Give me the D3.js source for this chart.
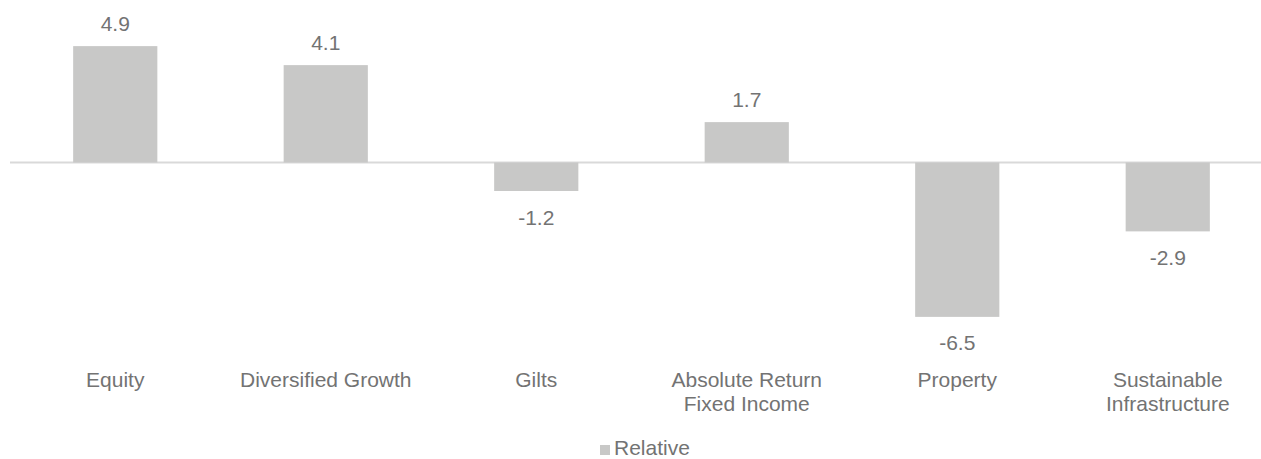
<!DOCTYPE html>
<html><head><meta charset="utf-8">
<script src="https://cdn.jsdelivr.net/npm/d3@7"></script>
<style>body{margin:0;background:#fff}svg{display:block}</style>
</head><body>
<script>
const categories = [["Equity"],["Diversified Growth"],["Gilts"],["Absolute Return","Fixed Income"],["Property"],["Sustainable","Infrastructure"]];
const values = [4.9, 4.1, -1.2, 1.7, -6.5, -2.9];
const seriesName = "Relative";

const W = 1261, H = 459;
const font = "'Liberation Sans', Arial, sans-serif";
const textColor = "#737373";
const barColor = "#c8c8c7";

const svg = d3.select("body").append("svg").attr("width", W).attr("height", H);

const keys = categories.map((c,i)=>i);
const x = d3.scaleBand().domain(keys).range([10, 1273]).paddingInner(0.6).paddingOuter(0.3);
const y = d3.scaleLinear().domain([-8, 6]).range([352.5, 20]);

svg.append("line").attr("x1", 10).attr("x2", W).attr("y1", y(0)).attr("y2", y(0))
  .attr("stroke", "#d9d9d9").attr("stroke-width", 2);

svg.selectAll("rect.bar").data(values).join("rect").attr("class","bar")
  .attr("x", (d,i)=>x(i)).attr("width", x.bandwidth())
  .attr("y", d=>y(Math.max(0,d))).attr("height", d=>Math.abs(y(d)-y(0)))
  .attr("fill", barColor);

svg.selectAll("text.val").data(values).join("text").attr("class","val")
  .attr("x", (d,i)=>x(i)+x.bandwidth()/2)
  .attr("y", d=> d>=0 ? y(d)-15.5 : y(d)+33.5)
  .attr("text-anchor","middle").attr("font-family", font).attr("font-size", 21)
  .attr("fill", textColor).text(d=>d.toFixed(1));

const cat = svg.selectAll("text.cat").data(categories).join("text").attr("class","cat")
  .attr("text-anchor","middle").attr("font-family", font).attr("font-size", 21).attr("fill", textColor);
cat.selectAll("tspan").data((d,i)=>d.map(l=>({l,i}))).join("tspan")
  .attr("x", d=>x(d.i)+x.bandwidth()/2)
  .attr("y", (d,j)=>386.5 + j*24)
  .text(d=>d.l);

const lg = svg.append("g");
lg.append("rect").attr("x", 600).attr("y", 445).attr("width", 10).attr("height", 10).attr("fill", barColor);
lg.append("text").attr("x", 614).attr("y", 455).attr("font-family", font).attr("font-size", 21)
  .attr("fill", textColor).text(seriesName);
</script>
</body></html>
